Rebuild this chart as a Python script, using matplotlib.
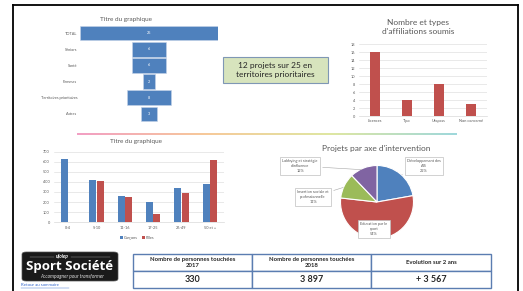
import numpy as np
import matplotlib
matplotlib.use('Agg')
import matplotlib.pyplot as plt
from matplotlib.patches import Rectangle, FancyBboxPatch
from matplotlib.lines import Line2D
from matplotlib.colors import LinearSegmentedColormap

plt.rcParams['font.family'] = ['Lato', 'DejaVu Sans']

# data
funnel_cats = ['TOTAL', 'Séniors', 'Santé', 'Femmes', 'Territoires prioritaires', 'Autres']
funnel_vals = [25, 6, 6, 2, 8, 3]

affil_cats = ['Licences', 'Tipo', 'Ufopass', 'Non concerné']
affil_vals = [16, 4, 8, 3]

age_cats = ['0-4', '5-10', '11-16', '17-25', '26-49', '50 et +']
garcons = [630, 420, 260, 200, 345, 380]
filles = [0, 415, 255, 85, 295, 620]

axe_labels = ['Développement des\nAIS', 'Education par le\nsport',
              'Insertion sociale et\nprofessionnelle', "Lobbying et stratégie\nd'influence"]
axe_vals = [22, 54, 11, 12]

table_headers = ['Nombre de personnes touchées\n2017', 'Nombre de personnes touchées\n2018',
                 'Evolution sur 2 ans']
table_values = ['330', '3 897', '+ 3 567']

BLUE = '#4f81bd'
RED = '#c0504d'
GREEN = '#9bbb59'
PURPLE = '#8064a2'
GREY = '#595959'
GRID = '#d9d9d9'

W, H = 523, 291
fig = plt.figure(figsize=(W / 100, H / 100), dpi=100)


def box(x0, y0, x1, y1):
    return [x0 / W, 1 - y1 / H, (x1 - x0) / W, (y1 - y0) / H]


def pt(x, y):
    return (x / W, 1 - y / H)


# outer frame
for (xa, ya, xb, yb) in [(13, 5, 518, 5), (13, 5, 13, 291), (518, 5, 518, 291)]:
    fig.add_artist(Line2D([xa / W, xb / W], [1 - ya / H, 1 - yb / H], color='black', lw=1.3))

# funnel
ax1 = fig.add_axes(box(80, 25, 218, 122))
ypos = np.arange(len(funnel_cats))
ax1.barh(ypos, funnel_vals, left=[-v / 2 for v in funnel_vals], height=0.9,
         color=BLUE, edgecolor='#c5d3e8', lw=0.4)
for y, v in zip(ypos, funnel_vals):
    ax1.text(0, y, str(v), color='white', fontsize=2.8, ha='center', va='center')
ax1.set_xlim(-12.5, 12.5)
ax1.set_ylim(5.5, -0.5)
ax1.set_yticks(ypos)
ax1.set_yticklabels(funnel_cats, fontsize=2.8, color=GREY)
ax1.tick_params(axis='y', length=0, pad=2)
ax1.set_xticks([])
for s in ax1.spines.values():
    s.set_visible(False)
fig.text(*pt(126, 19), 'Titre du graphique', fontsize=4.6, color=GREY, ha='center', va='center')

# green text box
fig.add_artist(Rectangle(pt(223, 83), 105 / W, 26 / H, facecolor='#d7e4bd',
                         edgecolor='#7f97b5', lw=0.8))
fig.text(*pt(275.5, 70), '12 projets sur 25 en\nterritoires prioritaires', fontsize=6,
         color='#262626', ha='center', va='center', linespacing=1.3)

# affiliations
ax2 = fig.add_axes(box(359, 44, 487, 116))
ax2.bar(np.arange(len(affil_cats)), affil_vals, width=0.31, color=RED, zorder=3)
ax2.set_ylim(0, 18)
ax2.set_xlim(-0.5, 3.5)
ax2.set_yticks(range(0, 19, 2))
ax2.set_xticks(np.arange(len(affil_cats)))
ax2.set_xticklabels(affil_cats)
ax2.tick_params(labelsize=2.8, labelcolor=GREY, length=0, pad=2.5)
ax2.grid(axis='y', color=GRID, lw=0.4, zorder=0)
for s in ['top', 'right', 'left']:
    ax2.spines[s].set_visible(False)
ax2.spines['bottom'].set_color(GRID)
ax2.spines['bottom'].set_linewidth(0.5)
fig.text(*pt(418, 27), "Nombre et types\nd'affiliations soumis", fontsize=6, color=GREY,
         ha='center', va='center', linespacing=1.25)

# gradient separator
axg = fig.add_axes(box(77, 133, 457, 135))
cmap = LinearSegmentedColormap.from_list('sep', ['#f29fc4', '#f7c99a', '#dfe7a2', '#9fd8dc'])
axg.imshow(np.linspace(0, 1, 256)[None, :], aspect='auto', cmap=cmap)
axg.axis('off')

# grouped bars
ax3 = fig.add_axes(box(54, 152, 224, 222))
x = np.arange(len(age_cats))
ax3.bar(x - 0.13, garcons, width=0.24, color=BLUE, label='Garçons', zorder=3)
ax3.bar(x + 0.13, filles, width=0.24, color=RED, label='Filles', zorder=3)
ax3.set_ylim(0, 700)
ax3.set_xlim(-0.5, 5.5)
ax3.set_yticks(range(0, 701, 100))
ax3.set_xticks(x)
ax3.set_xticklabels(age_cats)
ax3.tick_params(labelsize=2.8, labelcolor=GREY, length=0, pad=3)
ax3.grid(axis='y', color=GRID, lw=0.4, zorder=0)
for s in ['top', 'right', 'left']:
    ax3.spines[s].set_visible(False)
ax3.spines['bottom'].set_color(GRID)
ax3.spines['bottom'].set_linewidth(0.5)
ax3.legend(loc='center', bbox_to_anchor=(0.49, -0.23), ncol=2, fontsize=2.8, frameon=False,
           handlelength=0.7, handleheight=0.7, columnspacing=1.0, handletextpad=0.3,
           labelcolor=GREY)
fig.text(*pt(136, 141), 'Titre du graphique', fontsize=4.6, color=GREY, ha='center', va='center')

# pie
R = 36.5
cx, cy = 377, 202
ax4 = fig.add_axes(box(262, 150, 470, 245))
ax4.set_xlim(-(cx - 262) / R, (470 - cx) / R)
ax4.set_ylim(-(245 - cy) / R, (cy - 150) / R)
ax4.axis('off')
wedges, _ = ax4.pie(axe_vals, colors=[BLUE, RED, GREEN, PURPLE], startangle=90,
                    counterclock=False, radius=1, wedgeprops=dict(edgecolor='white', lw=0.8))
ax4.set_xlim(-(cx - 262) / R, (470 - cx) / R)
ax4.set_ylim(-(245 - cy) / R, (cy - 150) / R)
ax4.set_aspect('auto')

label_pos = [(424, 166), (374, 229), (313, 197), (300, 166)]
anchor_r = [0.95, 0.0, 0.95, 0.95]
total = sum(axe_vals)
for w, lab, v, (lx, ly), r in zip(wedges, axe_labels, axe_vals, label_pos, anchor_r):
    txt = '%s\n%d%%' % (lab, round(v))
    ang = np.deg2rad((w.theta1 + w.theta2) / 2)
    props = dict(boxstyle='square,pad=0.5', fc='white', ec='#bfbfbf', lw=0.5)
    if r > 0:
        ax4.annotate(txt, xy=(r * np.cos(ang), r * np.sin(ang)), xytext=pt(lx, ly),
                     textcoords='figure fraction', fontsize=2.8, color=GREY,
                     ha='center', va='center', bbox=props,
                     arrowprops=dict(arrowstyle='-', color='#a6a6a6', lw=0.4))
    else:
        fig.text(*pt(lx, ly), txt, fontsize=2.8, color=GREY, ha='center', va='center', bbox=props)
fig.text(*pt(376, 149), "Projets par axe d'intervention", fontsize=6, color=GREY,
         ha='center', va='center')

# logo
fig.add_artist(FancyBboxPatch(pt(22, 281), 96 / W, 29 / H, boxstyle='round,pad=0,rounding_size=0.008',
                              fc='#1a1a1a', ec='#555555', lw=0.5))
fig.text(*pt(62, 256.5), 'ufolep', fontsize=3.5, color='white', style='italic', weight='bold',
         ha='center', va='center')
fig.add_artist(Line2D([30 / W, 54 / W], [1 - 256.5 / H] * 2, color='#aaaaaa', lw=0.3))
fig.add_artist(Line2D([71 / W, 110 / W], [1 - 256.5 / H] * 2, color='#aaaaaa', lw=0.3))
fig.text(*pt(70, 266.5), 'Sport Société', fontsize=9.5, color='white', weight='bold',
         family='Open Sans', ha='center', va='center')
fig.text(*pt(72, 276), 'Accompagner pour transformer', fontsize=3.5, color='#dddddd',
         style='italic', ha='center', va='center')
fig.text(*pt(21, 285.5), 'Retour au sommaire', fontsize=3.2, color='#3366cc', ha='left',
         va='center')
fig.add_artist(Line2D([21 / W, 69 / W], [1 - 287.5 / H] * 2, color='#3366cc', lw=0.3))

# table
cols = [133, 252, 371, 491]
for i in range(3):
    for (ya, yb) in [(254, 271), (271, 288)]:
        fig.add_artist(Rectangle(pt(cols[i], yb), (cols[i + 1] - cols[i]) / W, (yb - ya) / H,
                                 fc='white', ec='#5b7db1', lw=1.0))
    xm = (cols[i] + cols[i + 1]) / 2
    fig.text(*pt(xm, 262.5), table_headers[i], fontsize=4.3, weight='bold', color='#262626',
             ha='center', va='center', linespacing=1.3)
    fig.text(*pt(xm, 279.5), table_values[i], fontsize=6.5, weight='bold', color='#262626',
             ha='center', va='center')

fig.savefig('out.png', dpi=100)
